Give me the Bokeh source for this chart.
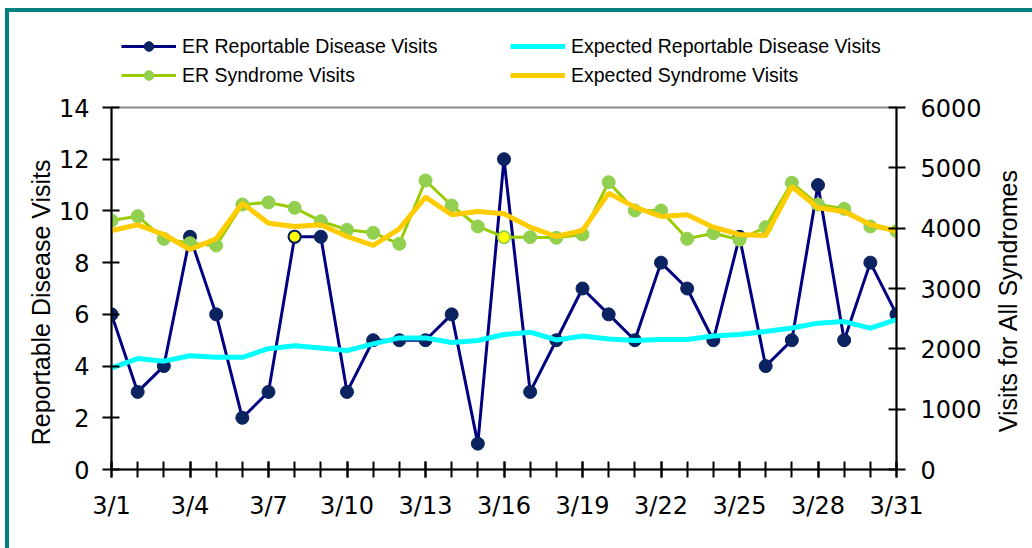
import math
from bokeh.plotting import figure
from bokeh.layouts import column, row
from bokeh.models import (Range1d, LinearAxis, FixedTicker, SingleIntervalTicker,
                          Legend, LegendItem, ColumnDataSource, Label)
from bokeh.embed import file_html
from bokeh.resources import INLINE

days = list(range(1, 32))
er_reportable = [6, 3, 4, 9, 6, 2, 3, 9, 9, 3, 5, 5, 5, 6, 1, 12, 3, 5, 7, 6, 5, 8, 7, 5, 9, 4, 5, 11, 5, 8, 6]
expected_reportable = [3.93, 4.29, 4.19, 4.40, 4.34, 4.34, 4.67, 4.79, 4.70, 4.60, 4.86, 5.09, 5.09, 4.91, 4.99,
                       5.22, 5.31, 5.01, 5.16, 5.05, 4.99, 5.03, 5.03, 5.16, 5.22, 5.34, 5.47, 5.66, 5.72, 5.47, 5.80]
er_syndrome = [4127, 4199, 3824, 3751, 3713, 4392, 4426, 4337, 4116, 3973, 3923, 3741, 4790, 4376, 4028,
               3851, 3851, 3840, 3895, 4762, 4293, 4293, 3824, 3917, 3807, 4017, 4752, 4392, 4321, 4028, 3950]
expected_syndrome = [3962, 4056, 3895, 3647, 3824, 4414, 4083, 4028, 4056, 3862, 3713, 3990, 4514, 4222, 4276,
                     4238, 4017, 3862, 3962, 4581, 4348, 4194, 4222, 4017, 3895, 3879, 4691, 4337, 4276, 4061, 3950]
alert_reportable_days = [8]
alert_syndrome_days = [16]
x_tick_days = [1, 4, 7, 10, 13, 16, 19, 22, 25, 28, 31]
x_tick_labels = ["3/1", "3/4", "3/7", "3/10", "3/13", "3/16", "3/19", "3/22", "3/25", "3/28", "3/31"]
left_title = "Reportable Disease Visits"
right_title = "Visits for All Syndromes"
legend_labels = ["ER Reportable Disease Visits", "ER Syndrome Visits",
                 "Expected Reportable Disease Visits", "Expected Syndrome Visits"]

src = ColumnDataSource(dict(day=days, er=er_reportable, exp_er=expected_reportable,
                            syn=er_syndrome, exp_syn=expected_syndrome))
alert_r = ColumnDataSource(dict(day=alert_reportable_days,
                                v=[er_reportable[d - 1] for d in alert_reportable_days]))
alert_s = ColumnDataSource(dict(day=alert_syndrome_days,
                                v=[er_syndrome[d - 1] for d in alert_syndrome_days]))

TEAL = "#008080"
NAVY = "#000080"
NAVY_MK = "#0B2361"
GREEN = "#99CC00"
GREEN_MK = "#92D050"
CYAN = "#00FFFF"
GOLD = "#FFCC00"
TICK_FONT = "DejaVu Sans"
TITLE_FONT = "Liberation Sans"
PAD = "\u00a0" * 4  # nudges the centred left title slightly downward, as in the reference

# ---- main chart ----
p = figure(frame_width=785, frame_height=362, output_backend="svg", toolbar_location=None,
           x_range=Range1d(1, 31), y_range=Range1d(0, 14),
           min_border_left=111, min_border_right=90, min_border_top=20, min_border_bottom=79,
           x_axis_type=None, y_axis_type=None)
p.extra_y_ranges = {"right": Range1d(0, 6000)}
p.grid.visible = False
p.outline_line_color = "#8c8c8c"
p.outline_line_width = 2
p.background_fill_color = "white"
p.border_fill_alpha = 0

def style_axis(ax):
    ax.axis_line_color = "black"
    ax.axis_line_width = 2
    ax.major_tick_line_color = "black"
    ax.major_tick_line_width = 2
    ax.minor_tick_line_color = "black"
    ax.minor_tick_line_width = 2
    ax.major_label_text_font = TICK_FONT
    ax.major_label_text_font_size = "24px"
    ax.major_label_text_color = "black"
    ax.axis_label_text_font = TITLE_FONT
    ax.axis_label_text_font_size = "25px"
    ax.axis_label_text_font_style = "normal"
    ax.axis_label_text_color = "black"

xaxis = LinearAxis(ticker=FixedTicker(ticks=x_tick_days, minor_ticks=days))
xaxis.major_label_overrides = {d: lab for d, lab in zip(x_tick_days, x_tick_labels)}
style_axis(xaxis)
xaxis.major_tick_in = 8
xaxis.major_tick_out = 8
xaxis.minor_tick_in = 8
xaxis.minor_tick_out = 8
xaxis.major_label_standoff = 14
p.add_layout(xaxis, "below")

yaxis = LinearAxis(ticker=SingleIntervalTicker(interval=2, num_minor_ticks=0), axis_label=left_title + PAD)
style_axis(yaxis)
yaxis.major_tick_in = 8
yaxis.major_tick_out = 9
yaxis.minor_tick_line_color = None
yaxis.major_label_standoff = 13
yaxis.axis_label_standoff = 1
p.add_layout(yaxis, "left")

raxis = LinearAxis(y_range_name="right", ticker=SingleIntervalTicker(interval=1000, num_minor_ticks=0))
style_axis(raxis)
raxis.major_tick_in = 8
raxis.major_tick_out = 9
raxis.minor_tick_line_color = None
raxis.major_label_standoff = 15
p.add_layout(raxis, "right")

p.line("day", "er", source=src, line_color=NAVY, line_width=3)
p.scatter("day", "er", source=src, size=13, fill_color=NAVY_MK, line_color=NAVY_MK)
p.scatter("day", "v", source=alert_r, size=12, fill_color="#FFFF00", line_color=NAVY_MK, line_width=2)

p.line("day", "syn", source=src, y_range_name="right", line_color=GREEN, line_width=3)
p.scatter("day", "syn", source=src, y_range_name="right", size=13, fill_color=GREEN_MK, line_color=GREEN_MK)
p.scatter("day", "v", source=alert_s, y_range_name="right", size=12, fill_color="#FFFF00",
          line_color=GREEN_MK, line_width=1.5)

p.line("day", "exp_er", source=src, line_color=CYAN, line_width=5)
p.line("day", "exp_syn", source=src, y_range_name="right", line_color=GOLD, line_width=5)

# ---- legend strip above the chart (key glyphs only, their single point lies off-range) ----
lg = figure(width=986, height=87, output_backend="svg", toolbar_location=None,
            x_range=Range1d(0, 1), y_range=Range1d(0, 1),
            min_border_left=111, min_border_right=90, min_border_top=0, min_border_bottom=0,
            x_axis_type=None, y_axis_type=None)
lg.grid.visible = False
lg.outline_line_color = None
lg.background_fill_alpha = 0
lg.border_fill_alpha = 0

def key_src():
    return ColumnDataSource(dict(x=[-5], y=[-5]))

k1l = lg.line("x", "y", source=key_src(), line_color=NAVY, line_width=3)
k1m = lg.scatter("x", "y", source=key_src(), fill_color=NAVY_MK, line_color=NAVY_MK)
k2l = lg.line("x", "y", source=key_src(), line_color=GREEN, line_width=3)
k2m = lg.scatter("x", "y", source=key_src(), fill_color=GREEN_MK, line_color=GREEN_MK)
k3 = lg.line("x", "y", source=key_src(), line_color=CYAN, line_width=5)
k4 = lg.line("x", "y", source=key_src(), line_color=GOLD, line_width=5)

def add_legend(items, x):
    leg = Legend(items=items, location=(x, 0), orientation="vertical",
                 glyph_width=55, glyph_height=24, label_height=24, spacing=5,
                 label_standoff=6, padding=0, margin=0,
                 border_line_color=None, background_fill_alpha=0,
                 label_text_font=TITLE_FONT, label_text_font_size="19.5px", label_text_color="black")
    lg.add_layout(leg, "center")

add_legend([LegendItem(label=legend_labels[0], renderers=[k1l, k1m]),
            LegendItem(label=legend_labels[1], renderers=[k2l, k2m])], 10)
add_legend([LegendItem(label=legend_labels[2], renderers=[k3]),
            LegendItem(label=legend_labels[3], renderers=[k4])], 399)

# ---- strip at the right carrying the secondary axis title, reading bottom-to-top ----
tf = figure(width=46, height=548, output_backend="svg", toolbar_location=None,
            x_range=Range1d(0, 46), y_range=Range1d(0, 548),
            min_border_left=0, min_border_right=0, min_border_top=0, min_border_bottom=0,
            x_axis_type=None, y_axis_type=None)
tf.grid.visible = False
tf.outline_line_color = None
tf.background_fill_alpha = 0
tf.border_fill_alpha = 0
tf.add_layout(Label(x=21, y=248, x_units="screen", y_units="screen", text=right_title,
                    angle=math.pi / 2, text_align="center", text_baseline="middle",
                    text_font=TITLE_FONT, text_font_size="25px", text_color="black"))

layout = row(column(lg, p, spacing=0), tf, spacing=0)
layout.styles = {
    "background-color": "white",
    "background-image": f"linear-gradient({TEAL}, {TEAL}), linear-gradient({TEAL}, {TEAL})",
    "background-position": "5px 8px, 5px 8px",
    "background-size": "1027px 4px, 4px 540px",
    "background-repeat": "no-repeat",
}

open("out.html", "w").write(file_html(layout, INLINE))
